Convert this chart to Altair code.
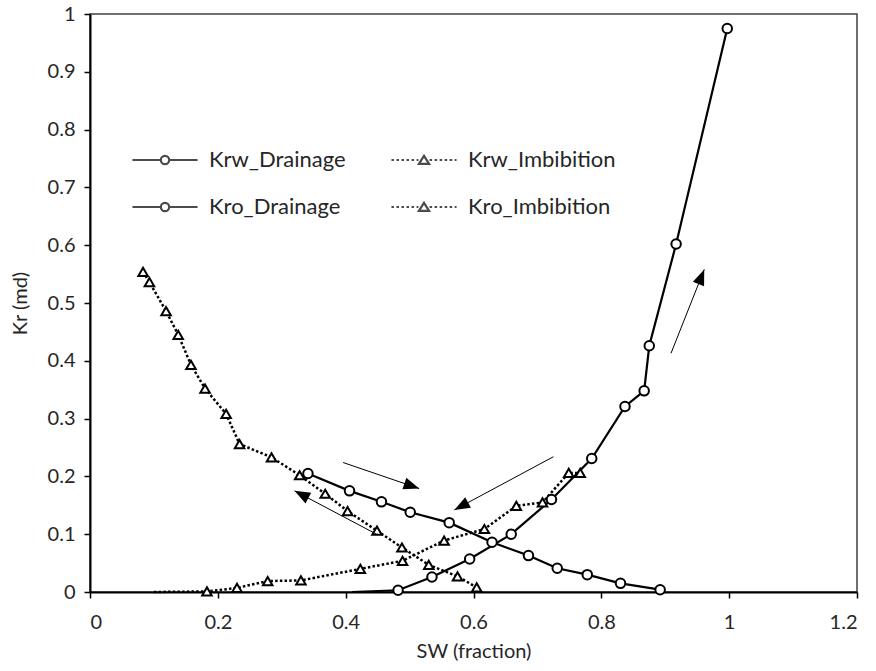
import math
import altair as alt
import pandas as pd

# ---------------- data ----------------
# legend order (filled column by column): drainage column, then imbibition column
series_names = ["Krw_Drainage", "Kro_Drainage", "Krw_Imbibition", "Kro_Imbibition"]

krw_dr_sw = [0.41, 0.482, 0.535, 0.594, 0.659, 0.722, 0.785, 0.837, 0.867, 0.875, 0.917, 0.997]
krw_dr_kr = [0.0, 0.003, 0.026, 0.057, 0.100, 0.160, 0.231, 0.321, 0.348, 0.426, 0.602, 0.975]
krw_dr_marker = [False, True, True, True, True, True, True, True, True, True, True, True]

kro_dr_sw = [0.341, 0.406, 0.456, 0.501, 0.562, 0.629, 0.686, 0.731, 0.778, 0.830, 0.892]
kro_dr_kr = [0.205, 0.175, 0.156, 0.138, 0.120, 0.086, 0.063, 0.041, 0.030, 0.015, 0.004]
kro_dr_marker = [True] * 11

krw_im_sw = [0.10, 0.183, 0.230, 0.278, 0.330, 0.423, 0.489, 0.554, 0.617, 0.667, 0.708, 0.749, 0.767]
krw_im_kr = [0.0, 0.001, 0.007, 0.019, 0.020, 0.040, 0.054, 0.089, 0.109, 0.149, 0.155, 0.206, 0.206]
krw_im_marker = [False] + [True] * 12

kro_im_sw = [0.083, 0.093, 0.119, 0.138, 0.158, 0.180, 0.213, 0.234, 0.284, 0.328, 0.368,
             0.403, 0.449, 0.488, 0.530, 0.575, 0.605]
kro_im_kr = [0.554, 0.536, 0.486, 0.445, 0.393, 0.352, 0.308, 0.256, 0.233, 0.202, 0.170,
             0.140, 0.106, 0.077, 0.047, 0.027, 0.008]
kro_im_marker = [True] * 17

# annotation arrows (start -> tip), in data units
arrow_x0 = [0.396, 0.725, 0.450, 0.909]
arrow_y0 = [0.224, 0.234, 0.099, 0.413]
arrow_x1 = [0.515, 0.570, 0.320, 0.961]
arrow_y1 = [0.179, 0.142, 0.175, 0.558]

x_ticks = [0, 0.2, 0.4, 0.6, 0.8, 1, 1.2]
y_ticks = [0, 0.1, 0.2, 0.3, 0.4, 0.5, 0.6, 0.7, 0.8, 0.9, 1]

# ---------------- layout ----------------
W, H = 767, 578
XMAX, YMAX = 1.2, 1.0
FONT = "Lato"
TXT = "#262626"

rows = []
for name, kind, sw, kr, mk in [
    ("Krw_Drainage", "drainage", krw_dr_sw, krw_dr_kr, krw_dr_marker),
    ("Krw_Imbibition", "imbibition", krw_im_sw, krw_im_kr, krw_im_marker),
    ("Kro_Drainage", "drainage", kro_dr_sw, kro_dr_kr, kro_dr_marker),
    ("Kro_Imbibition", "imbibition", kro_im_sw, kro_im_kr, kro_im_marker),
]:
    for i, (a, b, m) in enumerate(zip(sw, kr, mk)):
        rows.append(dict(series=name, kind=kind, sw=a, kr=b, marker=m, idx=i))
df = pd.DataFrame(rows)

px_x = W / XMAX
px_y = H / YMAX
arrows = pd.DataFrame(dict(x0=arrow_x0, y0=arrow_y0, x1=arrow_x1, y1=arrow_y1))
arrows["ang"] = [
    (math.degrees(math.atan2((b - a) * px_x, (d - c) * px_y)) + 360) % 360
    for a, b, c, d in zip(arrow_x0, arrow_x1, arrow_y0, arrow_y1)
]

xs = alt.Scale(domain=[0, XMAX], nice=False, zero=False)
ys = alt.Scale(domain=[0, YMAX], nice=False, zero=False)
X = alt.X("sw:Q", scale=xs,
          axis=alt.Axis(title="SW (fraction)", values=x_ticks, format="~g"))
Y = alt.Y("kr:Q", scale=ys,
          axis=alt.Axis(title="Kr (md)", values=y_ticks, format="~g"))

base = alt.Chart(df)

solid = base.transform_filter(alt.datum.kind == "drainage").mark_line(
    color="black", strokeWidth=2.2).encode(x=X, y=Y, detail="series:N", order="idx:Q")
dotted = base.transform_filter(alt.datum.kind == "imbibition").mark_line(
    color="black", strokeWidth=2.5, strokeDash=[2.5, 2.2]).encode(
    x=X, y=Y, detail="series:N", order="idx:Q")

circles = base.transform_filter(
    (alt.datum.kind == "drainage") & alt.datum.marker).mark_point(
    shape="circle", size=90, filled=True, fill="white", stroke="black",
    strokeWidth=2, opacity=1).encode(x="sw:Q", y="kr:Q")
triangles = base.transform_filter(
    (alt.datum.kind == "imbibition") & alt.datum.marker).mark_point(
    shape="triangle-up", size=90, filled=True, fill="white", stroke="black",
    strokeWidth=2, opacity=1).encode(x="sw:Q", y="kr:Q")

arrow_lines = alt.Chart(arrows).mark_rule(color="black", strokeWidth=1).encode(
    x="x0:Q", y="y0:Q", x2="x1:Q", y2="y1:Q")
head_path = "M0,0L0.5,1.3L-0.5,1.3Z"
arrow_heads = alt.Chart(arrows).mark_point(
    shape=head_path, size=576, filled=True, color="black", opacity=1).encode(
    x="x1:Q", y="y1:Q", angle=alt.Angle("ang:Q", scale=None))

# ---------------- legend symbols (line + marker) ----------------
def dots(a, b, seg=0.27, gap=0.27):
    out, p = [], a
    while p < b - 0.05:
        q = min(p + seg, b)
        out.append(f"M{p:.2f},0H{q:.2f}")
        p = q + gap
    return "".join(out)

r = 0.45
sym_dr = (f"M-3.5,0H{-r}M{r},0H3.5"
          f"M{-r},0A{r},{r} 0 1,0 {r},0A{r},{r} 0 1,0 {-r},0")
sym_im = (dots(-3.5, -0.6) + dots(0.6, 3.5) +
          "M0,-0.45L0.55,0.42L-0.55,0.42Z")

SYM = 346
legend_layer = base.transform_filter("false").mark_point(
    filled=False, color="black", size=SYM, strokeWidth=2).encode(
    x="sw:Q", y="kr:Q",
    shape=alt.Shape("series:N",
                    scale=alt.Scale(domain=series_names,
                                    range=[sym_dr, sym_dr, sym_im, sym_im]),
                    legend=alt.Legend(
                        title=None, orient="none", legendX=64, legendY=135,
                        columns=2, symbolSize=SYM, symbolStrokeWidth=2.2,
                        symbolStrokeColor="black", symbolFillColor="transparent",
                        labelFont=FONT, labelFontSize=22, labelColor=TXT,
                        labelOffset=33, rowPadding=25, columnPadding=41,
                        padding=0, labelLimit=300)))

chart = alt.layer(solid, dotted, circles, triangles, arrow_lines, arrow_heads,
                  legend_layer).properties(
    width=W, height=H,
    padding={"left": 90, "top": 14, "right": 19, "bottom": 79},
    autosize=alt.AutoSizeParams(type="none"),
    background="white",
).configure_view(stroke="#404040", strokeWidth=1.5).configure_axis(
    grid=False, domainColor="black", domainWidth=2, tickColor="black",
    tickWidth=1.5, tickSize=6, labelFont=FONT, labelFontSize=20,
    labelColor=TXT, titleFont=FONT, titleFontSize=20, titleColor=TXT,
    titleFontWeight="normal",
).configure_axisX(labelPadding=14, titlePadding=9).configure_axisY(
    labelPadding=9, titlePadding=17)

chart.save("out.html", embed_options={"renderer": "svg", "actions": False})
